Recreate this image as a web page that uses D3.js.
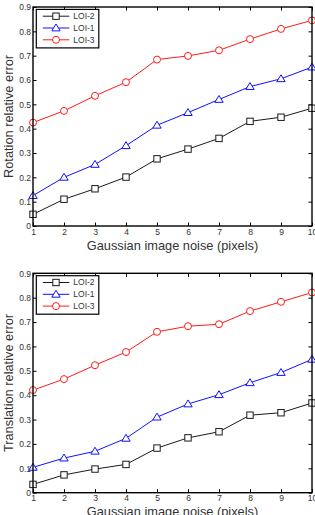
<!DOCTYPE html>
<html><head><meta charset="utf-8">
<script src="https://cdn.jsdelivr.net/npm/d3@7"></script>
<style>html,body{margin:0;padding:0;background:#fff;}svg{display:block;}</style>
</head><body>
<svg id="c" width="315" height="515"></svg>
<script>
const noise = [1,2,3,4,5,6,7,8,9,10];
const yTicks = [0,0.1,0.2,0.3,0.4,0.5,0.6,0.7,0.8,0.9];
const seriesNames = ["LOI-2","LOI-1","LOI-3"];
// Rotation relative error
const rotLOI2 = [0.048,0.110,0.153,0.201,0.276,0.316,0.360,0.430,0.447,0.484];
const rotLOI1 = [0.125,0.200,0.253,0.330,0.414,0.466,0.520,0.573,0.605,0.653];
const rotLOI3 = [0.425,0.473,0.535,0.591,0.684,0.699,0.722,0.768,0.810,0.845];
// Translation relative error
const trLOI2 = [0.034,0.073,0.097,0.116,0.183,0.225,0.250,0.318,0.328,0.368];
const trLOI1 = [0.104,0.142,0.170,0.223,0.310,0.364,0.402,0.451,0.493,0.547];
const trLOI3 = [0.421,0.466,0.523,0.577,0.660,0.683,0.691,0.745,0.783,0.821];

const styles = {
  "LOI-2": {color:"#1a1a1a", marker:"square"},
  "LOI-1": {color:"#1010ff", marker:"triangle"},
  "LOI-3": {color:"#ff1a1a", marker:"circle"}
};
const font = "'Liberation Sans', Arial, sans-serif";
const svg = d3.select("#c");

function drawMarker(g, type, x, y, color){
  if(type==="square"){
    g.append("rect").attr("x",x-3.2).attr("y",y-3.2).attr("width",6.4).attr("height",6.4)
      .attr("fill","#fff").attr("stroke",color).attr("stroke-width",1);
  } else if(type==="circle"){
    g.append("circle").attr("cx",x).attr("cy",y).attr("r",3.5)
      .attr("fill","#fff").attr("stroke",color).attr("stroke-width",1);
  } else {
    const s=4;
    g.append("path").attr("d",`M${x},${y-s}L${x+s*1.05},${y+s*0.72}L${x-s*1.05},${y+s*0.72}Z`)
      .attr("fill","#fff").attr("stroke",color).attr("stroke-width",1);
  }
}

function panel(top, bottom, ylabel, data){
  const left=33, right=312;
  const x = d3.scaleLinear().domain([1,10]).range([left,right]);
  const y = d3.scaleLinear().domain([0,0.9]).range([bottom,top]);
  const g = svg.append("g");

  // ticks inward on all four sides
  const tk=3.5;
  const axB = d3.axisBottom(x).tickValues(noise).tickSize(-tk).tickPadding(4).tickFormat(d3.format("d"));
  const axT = d3.axisTop(x).tickValues(noise).tickSize(-tk).tickFormat("");
  const axL = d3.axisLeft(y).tickValues(yTicks).tickSize(-tk).tickPadding(2).tickFormat(d=>d===0?"0":d3.format(".1f")(d));
  const axR = d3.axisRight(y).tickValues(yTicks).tickSize(-tk).tickFormat("");
  const gb = g.append("g").attr("transform",`translate(0,${bottom})`).call(axB);
  const gt = g.append("g").attr("transform",`translate(0,${top})`).call(axT);
  const gl = g.append("g").attr("transform",`translate(${left},0)`).call(axL);
  const gr = g.append("g").attr("transform",`translate(${right},0)`).call(axR);
  [gb,gt,gl,gr].forEach(a=>{
    a.select(".domain").remove();
    a.selectAll("line").attr("stroke","#000").attr("stroke-width",1);
    a.selectAll("text").attr("font-family",font).attr("font-size",8.5).attr("fill","#333");
  });
  gb.selectAll("text").attr("dy","0.55em");

  // series
  data.forEach(s=>{
    const st = styles[s.name];
    const line = d3.line().x((d,i)=>x(noise[i])).y(d=>y(d));
    g.append("path").attr("d",line(s.values)).attr("fill","none")
      .attr("stroke",st.color).attr("stroke-width",1);
    s.values.forEach((v,i)=>drawMarker(g, st.marker, x(noise[i]), y(v), st.color));
  });

  // frame
  g.append("rect").attr("x",left).attr("y",top).attr("width",right-left).attr("height",bottom-top)
    .attr("fill","none").attr("stroke","#000").attr("stroke-width",1.4);

  // legend
  const lx=36.3, ly=top+2.4, lw=62.5, lh=38.5;
  const lg = g.append("g");
  lg.append("rect").attr("x",lx).attr("y",ly).attr("width",lw).attr("height",lh)
    .attr("fill","#fff").attr("stroke","#000").attr("stroke-width",1.2);
  seriesNames.forEach((n,i)=>{
    const st = styles[n];
    const yy = ly + 6.8 + i*11.8;
    lg.append("line").attr("x1",lx+6.5).attr("x2",lx+33).attr("y1",yy).attr("y2",yy)
      .attr("stroke",st.color).attr("stroke-width",1);
    drawMarker(lg, st.marker, lx+19.7, yy, st.color);
    lg.append("text").attr("x",lx+37).attr("y",yy).attr("dy","0.35em")
      .attr("font-family",font).attr("font-size",8.5).attr("fill","#333").text(n);
  });

  // axis labels
  g.append("text").attr("x",(left+right)/2).attr("y",bottom+23.5).attr("text-anchor","middle")
    .attr("font-family",font).attr("font-size",12.8).attr("fill","#333").text("Gaussian image noise (pixels)");
  g.append("text").attr("transform",`translate(13.3,${(top+bottom)/2}) rotate(-90)`)
    .attr("text-anchor","middle").attr("font-family",font).attr("font-size",12.8).attr("fill","#333").text(ylabel);
}

panel(7, 226, "Rotation relative error", [
  {name:"LOI-2", values:rotLOI2},{name:"LOI-1", values:rotLOI1},{name:"LOI-3", values:rotLOI3}]);
panel(273.3, 492.7, "Translation relative error", [
  {name:"LOI-2", values:trLOI2},{name:"LOI-1", values:trLOI1},{name:"LOI-3", values:trLOI3}]);
</script>
</body></html>
